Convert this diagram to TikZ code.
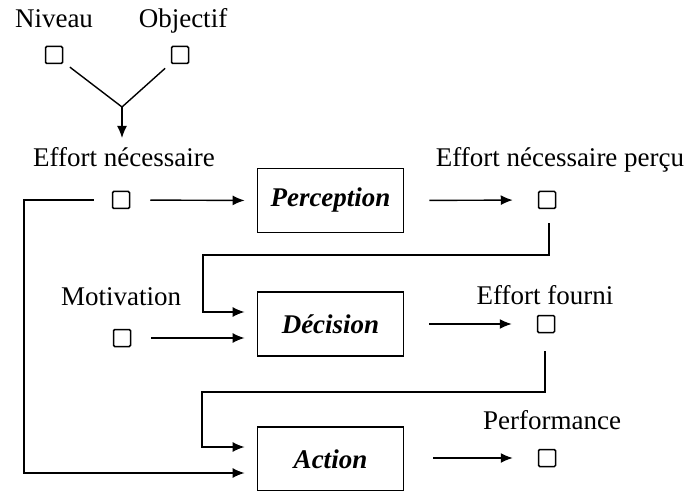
\documentclass[tikz,border=0pt]{standalone}
\usepackage{fontspec}
\setmainfont{Liberation Serif}
\usetikzlibrary{arrows.meta,calc}
\begin{document}
\begin{tikzpicture}[x=0.5pt,y=-0.5pt,
  font=\fontsize{13.5}{16}\selectfont,
  sq/.style={draw, line width=0.75pt, minimum size=8.5pt, inner sep=0pt, rounded corners=0.6pt},
  proc/.style={draw, line width=0.9pt, minimum width=73pt, minimum height=32pt, inner sep=0pt, font=\fontsize{13.5}{16}\selectfont\bfseries\itshape},
  lbl/.style={inner sep=0pt, anchor=base},
  conn/.style={line width=0.7pt},
  arr/.style={conn, -{Latex[length=6pt,width=5pt]}}]
\useasboundingbox (0,0) rectangle (689,491);

% labels (positioned at their baselines)
\node[lbl] (nivT) at (54,28) {Niveau};
\node[lbl] (objT) at (183,28) {Objectif};
\node[lbl] (enT) at (124,167) {Effort nécessaire};
\node[lbl] (enpT) at (560,167) {Effort nécessaire perçu};
\node[lbl] (motT) at (121,305) {Motivation};
\node[lbl] (efT) at (545,304) {Effort fourni};
\node[lbl] (perfT) at (552,429) {Performance};

% squares
\node[sq] (sqN) at (54,55) {};
\node[sq] (sqO) at (180,55) {};
\node[sq] (sqE) at (121,200) {};
\node[sq] (sqP) at (547,200) {};
\node[sq] (sqM) at (122,338) {};
\node[sq] (sqF) at (546,324) {};
\node[sq] (sqR) at (547,458) {};

% process boxes
\node[proc] (perc) at (330.5,200.5) {Perception};
\node[proc] (dec) at (330.5,324) {Décision};
\node[proc] (act) at (330.5,459) {Action};

% junction
\coordinate (J) at (122,107);
\coordinate (K) at (122,138);
\draw[conn, shorten <=10pt] (sqN.center) -- (J);
\draw[conn, shorten <=10pt] (sqO.center) -- (J);
\draw[arr] (J) -- (K);

% horizontal flows
\draw[arr, shorten <=10pt, shorten >=6pt] (sqE.east) -- (perc.west);
\draw[arr, shorten <=12.5pt, shorten >=12.5pt] (perc.east) -- (sqP.west);
\draw[arr, shorten <=10pt, shorten >=6pt] (sqM.east) -- (sqM.east -| dec.west);
\draw[arr, shorten <=12.5pt, shorten >=12.5pt] (dec.east) -- (sqF.west);
\draw[arr, shorten <=14.5pt, shorten >=12.5pt] (act.east |- sqR.west) -- (sqR.west);

% feedback paths
\coordinate (p1) at (549,255);
\coordinate (p2) at (203,255);
\draw[arr, shorten <=7pt, shorten >=6pt] (sqP.south -| p1) -- (p1) -- (p2) |- ($(dec.west)+(0,-12)$);

\coordinate (f1) at (545,392);
\coordinate (f2) at (202,392);
\draw[arr, shorten <=9pt, shorten >=6pt] (sqF.south -| f1) -- (f1) -- (f2) |- ($(act.west)+(0,-12)$);

\coordinate (l1) at (24,200);
\draw[arr, shorten <=9pt, shorten >=6pt] (sqE.west) -- (l1) |- ($(act.west)+(0,14)$);
\end{tikzpicture}
\end{document}
